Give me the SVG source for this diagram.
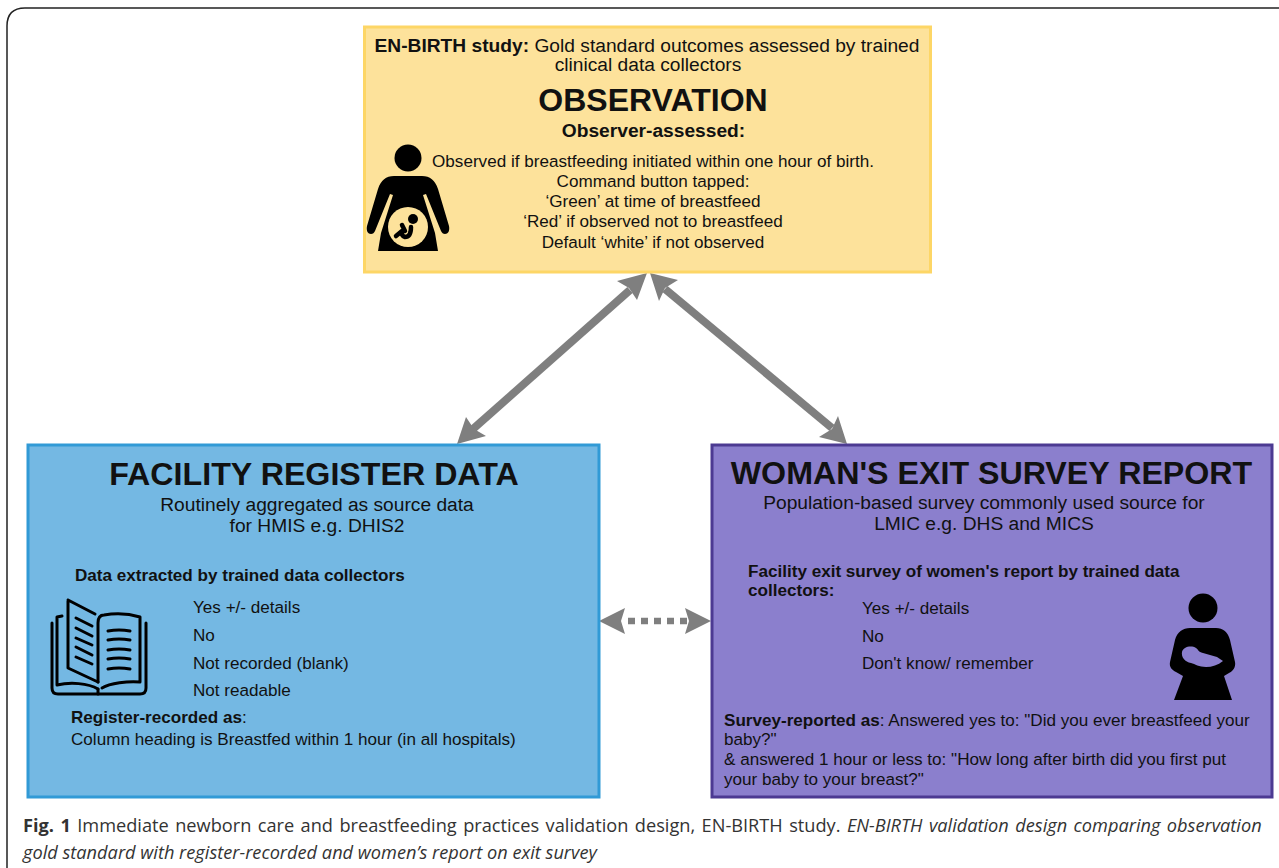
<svg xmlns="http://www.w3.org/2000/svg" width="1279" height="868" viewBox="0 0 1279 868">
<style>
text{font-family:"Liberation Sans",Arial,sans-serif;fill:#111}
.t{font-size:17.1px}
.s{font-size:19.2px}
.m{text-anchor:middle}
.b{font-weight:700}
.h{font-size:32.2px;font-weight:700;text-anchor:middle}
.c{font-family:"Open Sans","Noto Sans",sans-serif;font-size:18.2px;fill:#333}
.ar{stroke:#7f7f7f;stroke-width:8;fill:none}
.hd{fill:#7f7f7f}
.ic{fill:#000}
.ln{fill:none;stroke:#000;stroke-width:3;stroke-linecap:round;stroke-linejoin:round}
</style>
<rect width="1279" height="868" fill="#fff"/>
<path d="M7 868V26Q7 8 25 8H1279" fill="none" stroke="#222" stroke-width="1.5"/>
<g id="connectors">
<path class="ar" d="M630 290L473 429"/>
<path class="hd" d="M647 273L617 281L629 288L637 300Z"/>
<path class="hd" d="M457 444L486 436L474 429L466 417Z"/>
<path class="ar" d="M665 289L832 428"/>
<path class="hd" d="M650 273L678 280L665 288L659 301Z"/>
<path class="hd" d="M847 444L819 437L832 429L838 416Z"/>
<path class="ar" d="M628 621H687" stroke-dasharray="7 6" style="stroke-width:6.500px"/>
<path class="hd" d="M599 621L625 608L621 621L625 634Z"/>
<path class="hd" d="M711 621L685 608L689 621L685 634Z"/>
</g>
<g id="observation">
<rect x="364.500" y="27" width="566" height="245" fill="#fde29b" stroke="#fdd666" stroke-width="3"/>
<text class="s m" x="647" y="52"><tspan class="b">EN-BIRTH study:</tspan> Gold standard outcomes assessed by trained</text>
<text class="s m" x="648" y="71">clinical data collectors</text>
<text class="m b" x="653" y="111" font-size="32">OBSERVATION</text>
<text class="s m b" x="653.500" y="137">Observer-assessed:</text>
<text class="t m" x="653" y="167">Observed if breastfeeding initiated within one hour of birth.</text>
<text class="t m" x="653" y="187">Command button tapped:</text>
<text class="t m" x="653" y="207">‘Green’ at time of breastfeed</text>
<text class="t m" x="653" y="227">‘Red’ if observed not to breastfeed</text>
<text class="t m" x="653" y="248">Default ‘white’ if not observed</text>
<g id="icon-pregnant">
<circle class="ic" cx="408" cy="158" r="13.500"/>
<path class="ic" d="M394 176H422C430 176 435 180 438 189L449 226C450 231 448 234 445 234C443 234 442 233 441 231L426 194L423 195L435 233L438 251H378L381 233L393 195L390 194L375 231C374 233 373 234 371 234C368 234 366 231 367 226L378 189C381 180 386 176 394 176Z"/>
<circle cx="408" cy="227" r="20" fill="#fde29b"/>
<circle class="ic" cx="413" cy="219" r="5"/>
<path d="M411 227Q411 237 405 237Q401 236 402 231L396 236M402 225L405 231" fill="none" stroke="#000" stroke-width="4.500" stroke-linecap="round" stroke-linejoin="round"/>
</g>
</g>
<g id="facility">
<rect x="28" y="445" width="571" height="352" fill="#74b8e3" stroke="#319ad6" stroke-width="3"/>
<text class="h" x="314" y="485">FACILITY REGISTER DATA</text>
<text class="s m" x="317" y="511">Routinely aggregated as source data</text>
<text class="s m" x="317" y="532">for HMIS e.g. DHIS2</text>
<text class="t b" x="75" y="581">Data extracted by trained data collectors</text>
<text class="t" x="193" y="613">Yes +/- details</text>
<text class="t" x="193" y="641">No</text>
<text class="t" x="193" y="669">Not recorded (blank)</text>
<text class="t" x="193" y="696">Not readable</text>
<text class="t" x="71" y="723"><tspan class="b">Register-recorded as</tspan>:</text>
<text class="t" x="71" y="745">Column heading is Breastfed within 1 hour (in all hospitals)</text>
<g id="icon-book">
<path class="ln" d="M68 600L95 614M68 600V668L98 682"/>
<path class="ln" d="M98 682V623C98 618 100 615 104 615C116 613 130 614 140 617V682C128 681 110 683 102 688"/>
<path class="ln" d="M62 616L57 617V685C70 682 88 683 98 689"/>
<path class="ln" d="M52 623V688C52 692 54 694 58 694H140C144 694 146 692 146 688V623"/>
<path class="ln" d="M98 689V694"/>
<path class="ln" d="M76 618L92 626M76 628L92 636M76 638L92 645M76 647L92 655M76 657L92 664"/>
<path class="ln" d="M108 631Q119 629 130 631M108 640Q119 638 130 640M108 650Q119 648 130 650M108 659Q119 657 130 659M108 669Q119 667 130 669"/>
</g>
</g>
<g id="survey">
<rect x="712" y="445" width="560" height="352" fill="#8b7fcd" stroke="#4c3a92" stroke-width="3"/>
<text class="h" x="991.500" y="484">WOMAN'S EXIT SURVEY REPORT</text>
<text class="s m" x="984" y="509">Population-based survey commonly used source for</text>
<text class="s m" x="984" y="530">LMIC e.g. DHS and MICS</text>
<text class="t b" x="748" y="577">Facility exit survey of women's report by trained data</text>
<text class="t b" x="748" y="596">collectors:</text>
<text class="t" x="862" y="614">Yes +/- details</text>
<text class="t" x="862" y="642">No</text>
<text class="t" x="862" y="669">Don't know/ remember</text>
<text class="t" x="724" y="726"><tspan class="b">Survey-reported as</tspan>: Answered yes to: "Did you ever breastfeed your</text>
<text class="t" x="724" y="745">baby?"</text>
<text class="t" x="724" y="765">&amp; answered 1 hour or less to: "How long after birth did you first put</text>
<text class="t" x="724" y="785">your baby to your breast?"</text>
<g id="icon-mother">
<circle class="ic" cx="1203" cy="608" r="14.500"/>
<path class="ic" d="M1190 628H1216C1223 628 1228 632 1230 640L1235 662C1236 667 1233 671 1229 673L1224 676L1232 700H1174L1183 676L1176 672C1172 670 1169 667 1170 662L1175 640C1177 632 1183 628 1190 628Z"/>
<path d="M1182 652C1183 647 1191 645 1196 648C1199 650 1198 652 1203 653L1217 657L1223 661C1218 665 1212 667 1206 667C1199 667 1195 664 1191 663C1185 662 1181 657 1182 652Z" fill="#8b7fcd"/>
</g>
</g>
<g id="caption">
<text class="c" x="23" y="832" word-spacing="1.7"><tspan font-weight="700">Fig. 1</tspan> Immediate newborn care and breastfeeding practices validation design, EN-BIRTH study. <tspan font-style="italic">EN-BIRTH validation design comparing observation</tspan></text>
<text class="c" x="23" y="859" font-style="italic">gold standard with register-recorded and women’s report on exit survey</text>
</g>
</svg>
